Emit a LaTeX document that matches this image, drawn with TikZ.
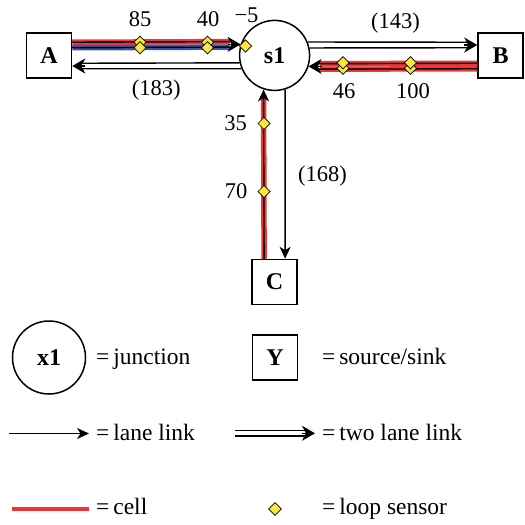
\documentclass[tikz,border=0pt]{standalone}
\usepackage{fontspec}
\setmainfont{Liberation Serif}
\usetikzlibrary{arrows.meta,calc,shapes.geometric}
\definecolor{cellred}{RGB}{236,56,56}
\definecolor{cellblue}{RGB}{62,84,168}
\definecolor{sensoryellow}{RGB}{250,232,64}
\begin{document}
\begin{tikzpicture}[x=1pt,y=-1pt,
  font=\fontsize{22.5}{27}\selectfont,
  junction/.style={circle,draw,line width=1.5pt,minimum size=70pt,inner sep=0pt,
    font=\fontsize{24}{28}\selectfont\bfseries},
  endpoint/.style={rectangle,draw,line width=1.5pt,minimum size=45pt,inner sep=0pt,
    font=\fontsize{24}{28}\selectfont\bfseries},
  lane/.style={line width=1.4pt,draw=black},
  redcell/.style={line width=5.5pt,draw=cellred},
  bluecell/.style={line width=5.5pt,draw=cellblue},
  onetip/.style={-{Stealth[length=12pt,width=11pt,inset=3.5pt]}},
  twotip/.style={-{Stealth[length=13pt,width=15pt,inset=4pt]}},
  sensor/.style={diamond,draw,fill=sensoryellow,line width=0.7pt,
    minimum width=12.5pt,minimum height=12.5pt,inner sep=0pt},
  lbl/.style={inner sep=0pt,anchor=base},
  legtext/.style={inner sep=0pt,anchor=base west,font=\fontsize{23.5}{28}\selectfont},
]
\useasboundingbox (0,0) rectangle (525,525);

% ---------- junction and sources/sinks ----------
\node[junction] (s1) at (274.6,55.4) {s1};
\node[endpoint] (A) at (49,55.5) {A};
\node[endpoint] (B) at (500.5,55.5) {B};
\node[endpoint] (C) at (274.6,282) {C};

% arrow tip points on the junction and on the boxes
\coordinate (tAs) at (s1.162.54);   % A -> s1
\coordinate (tBs) at (s1.342.54);   % B -> s1
\coordinate (tCs) at (s1.252.54);   % C -> s1
\coordinate (tsA) at ($(A.east)+(0,10.5)$);
\coordinate (tsB) at ($(B.west)+(0,-10.5)$);
\coordinate (tsC) at ($(C.north)+(10.5,0)$);

% ---------- A -> s1 : two lanes, red and blue cells ----------
\draw[redcell]  ($(A.east)+(0,-13.25)$) -- ($(tAs)+(-11,-2.75)$);
\draw[bluecell] ($(A.east)+(0,-7.75)$)  -- ($(tAs)+(-11,2.75)$);
\draw[lane] ($(A.east)+(0,-13.25)$) -- ($(tAs)+(-6,-2.75)$);
\draw[lane] ($(A.east)+(0,-7.75)$)  -- ($(tAs)+(-6,2.75)$);
\draw[lane,twotip] ($(tAs)+(-13,0)$) -- (tAs);

% ---------- s1 -> A : two lanes ----------
\draw[lane] (s1.192.8)  -- ($(tsA)+(6,-2.75)$);
\draw[lane] (s1.202.25) -- ($(tsA)+(6,2.75)$);
\draw[lane,twotip] ($(tsA)+(13,0)$) -- (tsA);

% ---------- s1 -> B : two lanes ----------
\draw[lane] (s1.22.25) -- ($(tsB)+(-6,-2.75)$);
\draw[lane] (s1.12.8)  -- ($(tsB)+(-6,2.75)$);
\draw[lane,twotip] ($(tsB)+(-13,0)$) -- (tsB);

% ---------- B -> s1 : two lanes, both red cells ----------
\draw[redcell] ($(B.west)+(0,7.75)$)  -- ($(tBs)+(11,-2.75)$);
\draw[redcell] ($(B.west)+(0,13.25)$) -- ($(tBs)+(11,2.75)$);
\draw[lane] ($(B.west)+(0,7.75)$)  -- ($(tBs)+(6,-2.75)$);
\draw[lane] ($(B.west)+(0,13.25)$) -- ($(tBs)+(6,2.75)$);
\draw[lane,twotip] ($(tBs)+(13,0)$) -- (tBs);

% ---------- C -> s1 : one lane, red cell ----------
\draw[redcell] ($(C.north)+(-10.5,0)$) -- ($(tCs)+(0,9)$);
\draw[lane,onetip] ($(C.north)+(-10.5,0)$) -- (tCs);

% ---------- s1 -> C : one lane ----------
\draw[lane,onetip] (s1.287.46) -- (tsC);

% ---------- loop sensors ----------
\node[sensor] (d85a) at (140,42.25) {};
\node[sensor] (d85b) at (140,47.75) {};
\node[sensor] (d40a) at (207.5,42.25) {};
\node[sensor] (d40b) at (207.5,47.75) {};
\node[sensor] (dm5)  at (245.5,46) {};
\node[sensor] (d46b) at (343,68.25) {};
\node[sensor] (d46a) at (343,62.75) {};
\node[sensor] (d100b) at (410.5,68.25) {};
\node[sensor] (d100a) at (410.5,62.75) {};
\node[sensor] (d35) at (264.1,123.5) {};
\node[sensor] (d70) at (264.1,191.5) {};

% ---------- labels ----------
\node[lbl] (l85)  at (140,26.5) {85};
\node[lbl] (l40)  at (208,26.5) {40};
\node[lbl] (lm5)  at (246.5,22.7) {−5};
\node[lbl] (l143) at (395.5,28) {(143)};
\node[lbl] (l183) at (156.3,95.5) {(183)};
\node[lbl] (l46)  at (344,98) {46};
\node[lbl] (l100) at (413,98) {100};
\node[lbl] (l35)  at (235.5,130) {35};
\node[lbl] (l70)  at (236,198) {70};
\node[lbl] (l168) at (322.5,181.5) {(168)};

% ---------- legend ----------
\node[junction,minimum size=73pt] (x1) at (49,357.5) {x1};
\node[legtext] (tj) at (96,364) {=\,junction};
\node[endpoint] (Y) at (275,357.5) {Y};
\node[legtext] (tss) at (322,364) {=\,source/sink};

\coordinate (ll0) at (9,433.5);
\coordinate (ll1) at (89,433.5);
\draw[lane,onetip] (ll0) -- (ll1);
\node[legtext] (tll) at (96,440) {=\,lane link};

\coordinate (tl0) at (235,433.3);
\coordinate (tl1) at (315,433.3);
\draw[lane] ($(tl0)+(0,-2.75)$) -- ($(tl1)+(-6,-2.75)$);
\draw[lane] ($(tl0)+(0,2.75)$)  -- ($(tl1)+(-6,2.75)$);
\draw[lane,twotip] ($(tl1)+(-13,0)$) -- (tl1);
\node[legtext] (ttl) at (322,440) {=\,two lane link};

\coordinate (cl0) at (12,509);
\coordinate (cl1) at (89,509);
\draw[redcell,line width=4.5pt] (cl0) -- (cl1);
\node[legtext] (tcl) at (96,514.8) {=\,cell};

\node[sensor,minimum width=13pt,minimum height=13pt] (dleg) at (275,509) {};
\node[legtext] (tls) at (322,514.8) {=\,loop sensor};
\end{tikzpicture}
\end{document}
